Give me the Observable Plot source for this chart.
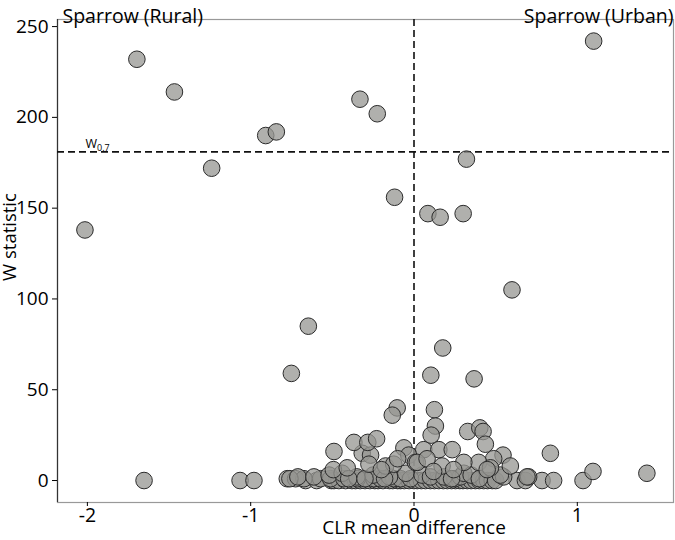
<!DOCTYPE html>
<html>
<head>
<meta charset="utf-8">
<script src="https://cdn.jsdelivr.net/npm/d3@7"></script>
<script src="https://cdn.jsdelivr.net/npm/@observablehq/plot@0.6"></script>
<style>
  html, body { margin: 0; padding: 0; background: #fff; }
  #chart { width: 675px; height: 540px; }
</style>
</head>
<body>
<div id="chart"></div>
<script>
// ---- data ----
const outlierX = [-1.697,-1.467,-0.908,-0.843,-0.331,-0.225,1.100,-1.239,-2.015,-0.647,-0.751,0.321,-0.119,0.085,0.160,0.301,0.600,0.176,0.103,0.368];
const outlierW = [232,214,190,192,210,202,242,172,138,85,59,177,156,147,145,147,105,73,58,56];

const midX = [-0.103,-0.133,0.125,0.131,0.105,0.329,0.403,0.423,0.437,-0.368,-0.283,-0.229];
const midW = [40,36,39,30,25,27,29,27,20,21,21,23];

const lowX = [-0.490,-0.494,-0.409,-0.317,-0.266,-0.276,-0.174,-0.124,-0.062,-0.032,0.009,0.060,0.152,0.234,0.545,0.488,0.590,0.396,0.020,0.172,0.305,0.468,0.835,0.243,0.448,1.096,1.426,-0.100,0.080,-0.200,0.120];
const lowW = [16,6,7,15,14,9,8,9,18,14,10,17,17,17,14,12,8,10,10,8,10,7,15,6,6,5,4,12,12,6,5];

const smallX = [-0.760,-0.711,-0.613,-0.520,-0.440,-0.350,-0.250,-0.150,-0.050,0.050,0.101,0.183,0.284,0.305,0.350,0.549,0.529,0.702,0.692,-0.400,-0.300,-0.180,0.230,0.400];
const smallW = [1,2,2,3,4,2,3,2,4,3,2,2,2,4,3,2,3,2,2,1,1,1,1,1];

const zeroX = [-1.653,-1.065,-0.980,-0.664,-0.596,-0.506,-0.490,-0.460,-0.419,-0.380,-0.358,-0.330,-0.300,-0.270,-0.240,-0.220,-0.190,-0.150,-0.130,-0.100,-0.083,-0.060,-0.030,0.000,0.020,0.045,0.070,0.100,0.125,0.152,0.180,0.204,0.230,0.254,0.280,0.300,0.326,0.350,0.376,0.400,0.427,0.450,0.479,0.500,0.631,0.682,0.784,0.855,1.035];
const zeroW = zeroX.map(() => 0);

const oneX = [-0.776,-0.725,-0.674,-0.572,-0.511,-0.429,-0.347,-0.246,-0.205,-0.124,-0.083,-0.021,0.250];
const oneW = oneX.map(() => 1);

const xTicks = [-2, -1, 0, 1];
const yTicks = [0, 50, 100, 150, 200, 250];
const xDomain = [-2.183, 1.589];
const yDomain = [-12.1, 253.9];
const wThreshold = 181;
const groupLabels = ["Sparrow (Rural)", "Sparrow (Urban)"];
const xLabel = "CLR mean difference";
const yLabel = "W statistic";
const thresholdLabel = "W0.7";

// ---- build table ----
const clrDiff = [].concat(zeroX, oneX, smallX, lowX, midX, outlierX);
const wStat = [].concat(zeroW, oneW, smallW, lowW, midW, outlierW);
const points = clrDiff.map((x, i) => ({x, w: wStat[i]}));

const chart = Plot.plot({
  width: 675,
  height: 540,
  marginTop: 19,
  marginBottom: 38,
  marginLeft: 57,
  marginRight: 2,
  style: {fontFamily: "'Open Sans', sans-serif", fontSize: "18px", color: "#000", background: "#fff"},
  x: {domain: xDomain},
  y: {domain: yDomain},
  marks: [
    Plot.frame({stroke: "#999", strokeWidth: 1.2}),
    Plot.ruleX([xDomain[0]], {stroke: "#333", strokeWidth: 1.2}),
    Plot.ruleY([wThreshold], {stroke: "#111", strokeWidth: 1.6, strokeDasharray: "7,4"}),
    Plot.ruleX([0], {stroke: "#111", strokeWidth: 1.6, strokeDasharray: "7,4"}),
    Plot.dot(points, {x: "x", y: "w", r: 8.3, fill: "#969692", fillOpacity: 0.75, stroke: "#2b2b2b", strokeWidth: 1}),
    Plot.axisX({ticks: xTicks, tickSize: 4, tickPadding: 2, label: null, fontSize: 19.5, tickFormat: d => d < 0 ? "-" + Math.abs(d) : String(d)}),
    Plot.axisY({ticks: yTicks, tickSize: 5, tickPadding: 4, label: null, fontSize: 19}),
    Plot.text([groupLabels[0]], {frameAnchor: "top-left", textAnchor: "start", dx: 5, dy: -10, fontSize: 19.5}),
    Plot.text([groupLabels[1]], {frameAnchor: "top-right", textAnchor: "end", dx: 0, dy: -10, fontSize: 19.5}),
    Plot.text([xLabel], {x: () => 0, frameAnchor: "bottom", textAnchor: "middle", dy: 31, fontSize: 19}),
    Plot.text([yLabel], {frameAnchor: "left", textAnchor: "middle", rotate: -90, dx: -47.5, dy: -24, fontSize: 18.5}),
    Plot.text([thresholdLabel], {x: () => xDomain[0], y: () => wThreshold, textAnchor: "start", dx: 28, dy: -8, fontSize: 12.5, className: "wlabel"})
  ]
});

document.getElementById("chart").appendChild(chart);

// render subscript for threshold label
d3.select(chart).selectAll("g.wlabel text").each(function() {
  const t = d3.select(this);
  t.text("W");
  t.append("tspan").attr("font-size", 9).attr("dy", "0.3em").text("0.7");
});
</script>
</body>
</html>
